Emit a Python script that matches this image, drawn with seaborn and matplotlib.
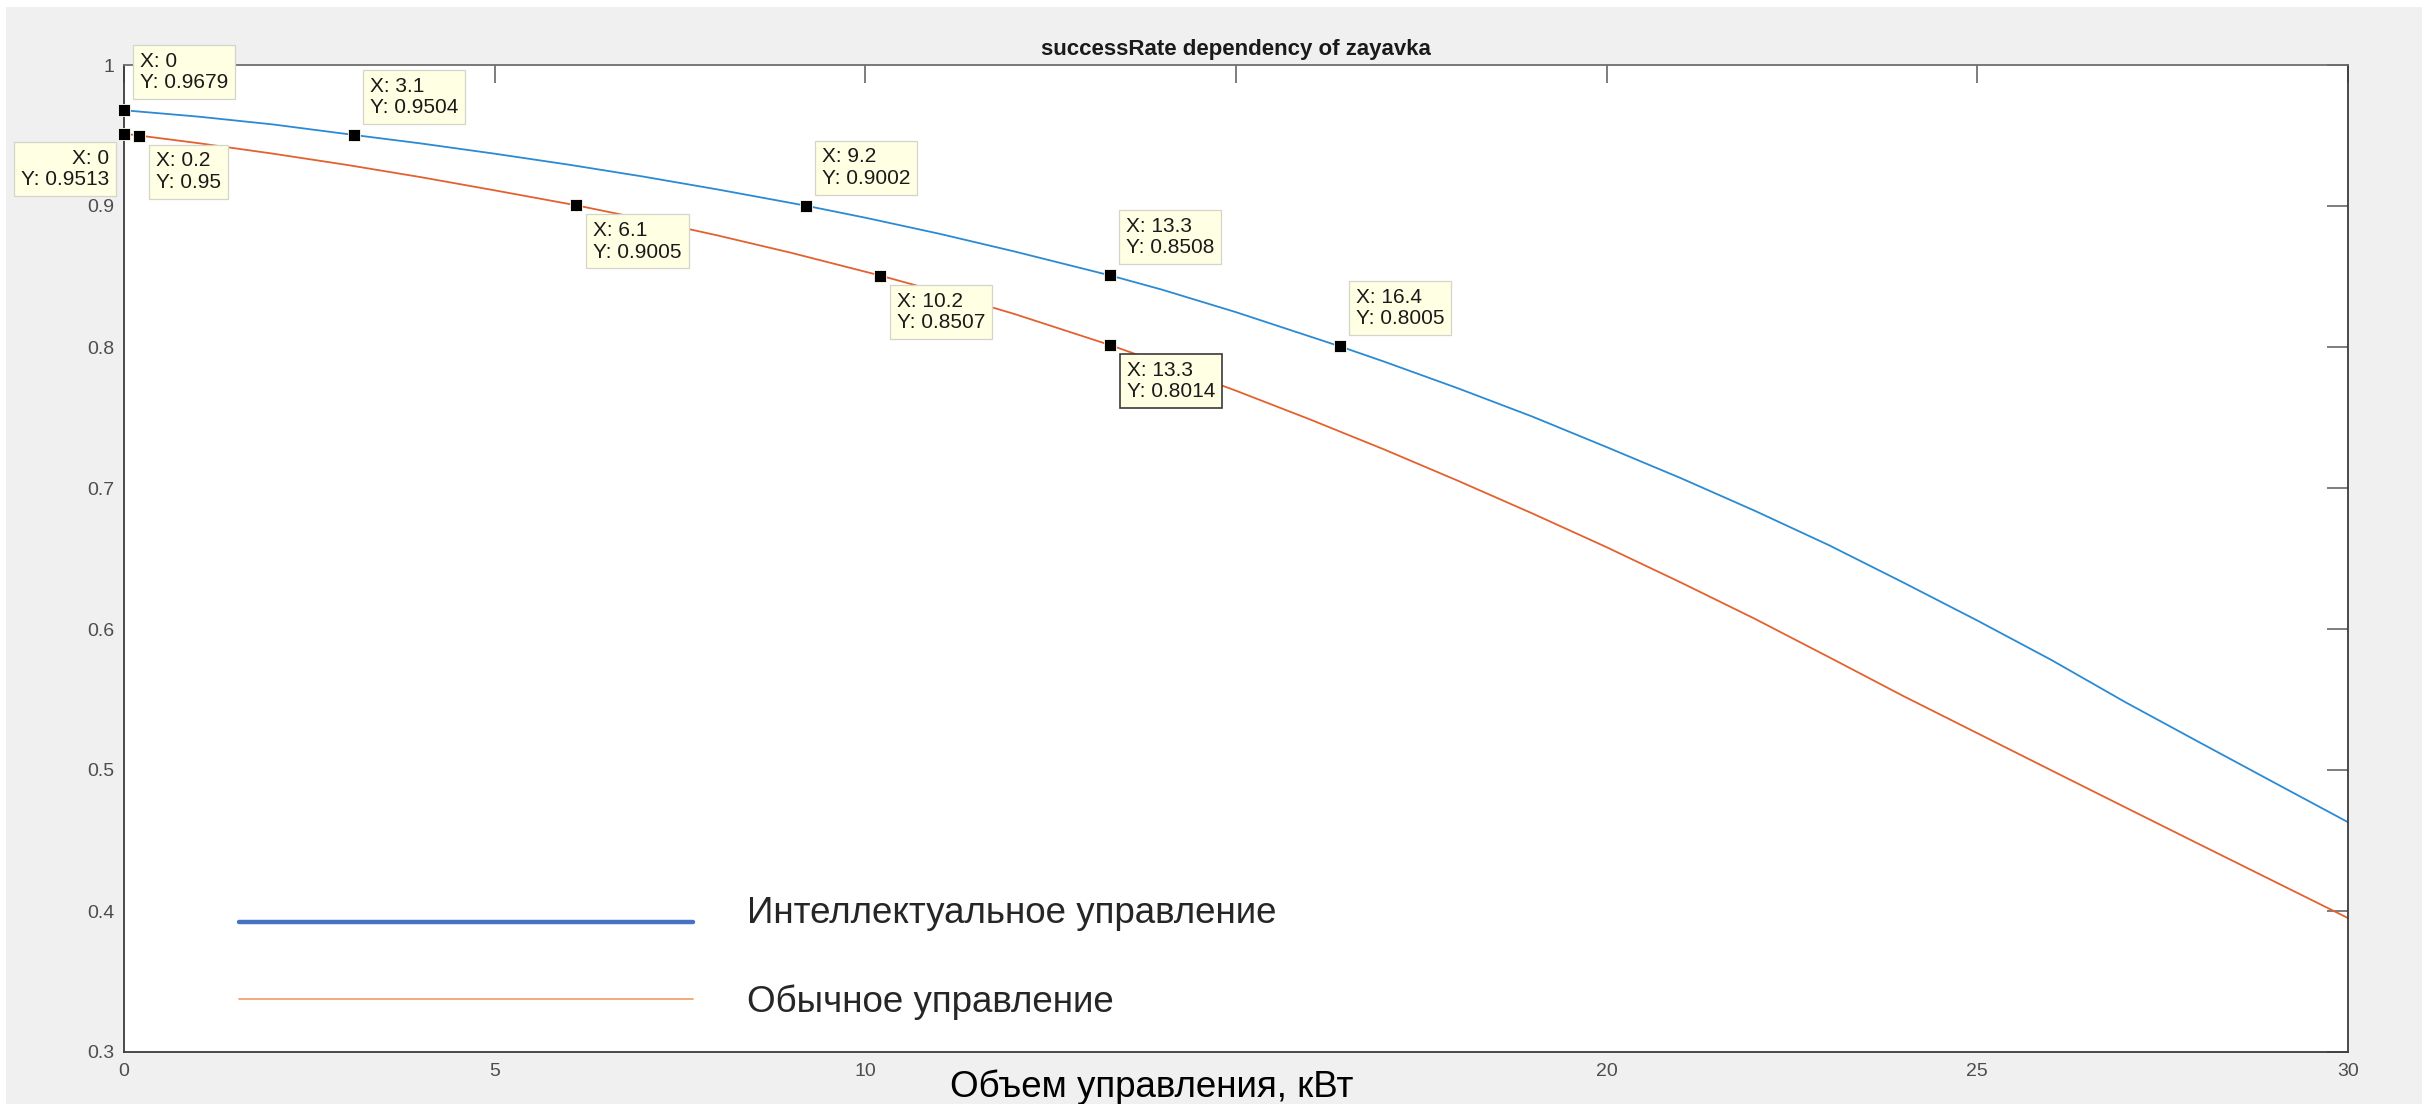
import numpy as np
import pandas as pd
import matplotlib
matplotlib.use("Agg")
import matplotlib.pyplot as plt
import seaborn as sns
from matplotlib.lines import Line2D
from matplotlib.patches import Rectangle
from matplotlib.legend_handler import HandlerLine2D

# --- data -------------------------------------------------------------
x_intel = [0, 1, 2, 3.1, 4, 5, 6, 7, 8, 9.2, 10, 11, 12, 13.3, 14, 15, 16.4,
           17, 18, 19, 20, 21, 22, 23, 24, 25, 26, 27, 28, 29, 30]
y_intel = [0.9679, 0.9634, 0.9579, 0.9504, 0.9444, 0.9371, 0.9293, 0.9209,
           0.9118, 0.9002, 0.8917, 0.8803, 0.8679, 0.8508, 0.8407, 0.8247,
           0.8005, 0.7896, 0.7706, 0.7506, 0.7290, 0.7070, 0.6838, 0.6594,
           0.6330, 0.6060, 0.5780, 0.5480, 0.5195, 0.4912, 0.4630]

x_usual = [0, 0.2, 1, 2, 3, 4, 5, 6.1, 7, 8, 9, 10.2, 11, 12, 13.3, 14, 15,
           16, 17, 18, 19, 20, 21, 22, 23, 24, 25, 26, 27, 28, 29, 30]
y_usual = [0.9513, 0.9500, 0.9446, 0.9372, 0.9292, 0.9205, 0.9111, 0.9005,
           0.8908, 0.8792, 0.8668, 0.8507, 0.8391, 0.8236, 0.8014, 0.7884,
           0.7690, 0.7486, 0.7273, 0.7050, 0.6819, 0.6580, 0.6330, 0.6072,
           0.5800, 0.5525, 0.5261, 0.4997, 0.4734, 0.4472, 0.4211, 0.3950]

series_names = ["Интеллектуальное управление", "Обычное управление"]

# data tips
tip_x = [0, 0, 0.2, 3.1, 6.1, 9.2, 10.2, 13.3, 13.3, 16.4]
tip_y = [0.9679, 0.9513, 0.95, 0.9504, 0.9005, 0.9002, 0.8507, 0.8508,
         0.8014, 0.8005]

x_ticks = [0, 5, 10, 15, 20, 25, 30]
x_ticklabels = ["0", "5", "10", "", "20", "25", "30"]
y_ticks = [0.3, 0.4, 0.5, 0.6, 0.7, 0.8, 0.9, 1.0]
y_ticklabels = ["0.3", "0.4", "0.5", "0.6", "0.7", "0.8", "0.9", "1"]

title = "successRate dependency of zayavka"
xlabel = "Объем управления, кВт"

# --- layout / style -----------------------------------------------------
W, H = 2422, 1104
DPI = 100
AX_L, AX_R, AX_T, AX_B = 124, 2348, 65, 1052   # axes box in pixels

# placement of each tip box relative to its marker
tip_side = ["ur", "ll", "lr", "ur", "lr", "ur", "lr", "ur", "lr", "ur"]
tip_active = 8


class ShiftedLine(HandlerLine2D):
    """Legend line handler that moves the sample line vertically (points)."""

    def __init__(self, dy=0.0, **kw):
        super().__init__(**kw)
        self.dy = dy

    def create_artists(self, legend, orig_handle, xdescent, ydescent, width,
                       height, fontsize, trans):
        arts = super().create_artists(legend, orig_handle, xdescent, ydescent,
                                      width, height, fontsize, trans)
        for a in arts:
            a.set_ydata(np.asarray(a.get_ydata(), dtype=float) - self.dy)
        return arts


sns.set_style("white")
plt.rcParams["font.family"] = ["Liberation Sans", "DejaVu Sans"]

fig = plt.figure(figsize=(W / DPI, H / DPI), dpi=DPI, facecolor="#f0f0f0")
# thin white margin along the top and the left edge
fig.patches.append(Rectangle((0, 1 - 7 / H), 1, 7 / H, transform=fig.transFigure,
                             fc="white", ec="none", zorder=0))
fig.patches.append(Rectangle((0, 0), 6 / W, 1, transform=fig.transFigure,
                             fc="white", ec="none", zorder=0))

ax = fig.add_axes([AX_L / W, 1 - AX_B / H, (AX_R - AX_L) / W, (AX_B - AX_T) / H])
ax.set_facecolor("white")

df = pd.concat([
    pd.DataFrame({"x": x_intel, "y": y_intel, "series": series_names[0]}),
    pd.DataFrame({"x": x_usual, "y": y_usual, "series": series_names[1]}),
])
palette = {series_names[0]: "#2a8ad3", series_names[1]: "#e4612f"}
sns.lineplot(data=df, x="x", y="y", hue="series", palette=palette,
             estimator=None, sort=False, linewidth=1.3, legend=False, ax=ax)

tips = pd.DataFrame({"x": tip_x, "y": tip_y})
sns.scatterplot(data=tips, x="x", y="y", marker="s", s=78, color="black",
                edgecolor="#fffff0", linewidth=0.6, ax=ax, zorder=5, clip_on=False)

for i, (tx, ty) in enumerate(zip(tip_x, tip_y)):
    side = tip_side[i]
    if side == "ur":
        off, ha, va = (16, 18), "left", "bottom"
    elif side == "lr":
        off, ha, va = (17, -16), "left", "top"
    else:
        off, ha, va = (-15, -15), "right", "top"
    active = i == tip_active
    ax.annotate(f"X: {tx:g}\nY: {ty:g}", xy=(tx, ty), xytext=off,
                textcoords="offset pixels", ha=ha, va=va, fontsize=15,
                color="#1a1a1a", linespacing=1.15, zorder=6,
                bbox=dict(boxstyle="square,pad=0.33", fc="#ffffe3",
                          ec="#3a3a3a" if active else "#d4d4c8",
                          lw=1.2 if active else 0.9))

ax.set_xlim(0, 30)
ax.set_ylim(0.3, 1.0)
ax.set_xticks(x_ticks)
ax.set_xticklabels(x_ticklabels)
ax.set_yticks(y_ticks)
ax.set_yticklabels(y_ticklabels)
ax.tick_params(axis="both", which="major", direction="in", top=True, right=True,
               color="#5a5a5a", width=1.1, labelcolor="#4d4d4d", labelsize=14)
ax.tick_params(axis="x", length=13, pad=8)
ax.tick_params(axis="y", length=15, pad=7)
for side_name, spine in ax.spines.items():
    spine.set_visible(True)
    spine.set_linewidth(1.3)
    spine.set_color("#6e6e6e" if side_name == "top" else "#3c3c3c")

ax.set_title(title, fontsize=16, fontweight="bold", color="#1a1a1a", pad=7)
ax.set_xlabel(xlabel, fontsize=26.5, color="black")
ax.xaxis.set_label_coords((1152 - AX_L) / (AX_R - AX_L), (AX_B - 1097) / (AX_B - AX_T))
ax.xaxis.label.set_va("baseline")
ax.set_ylabel("")

handles = [Line2D([], [], color="#4472c4", lw=3.2),
           Line2D([], [], color="#f4a46e", lw=1.3)]
ax.legend(handles, series_names, loc="upper left",
          bbox_to_anchor=(239 / W, 1 - 896 / H), bbox_transform=fig.transFigure,
          frameon=False, fontsize=26.5, handlelength=12.34, handletextpad=1.47,
          labelspacing=1.44, borderpad=0, borderaxespad=0,
          handler_map={handles[0]: ShiftedLine(dy=8.6),
                       handles[1]: ShiftedLine(dy=0.0)})

fig.savefig("out.png", dpi=DPI, facecolor=fig.get_facecolor())
